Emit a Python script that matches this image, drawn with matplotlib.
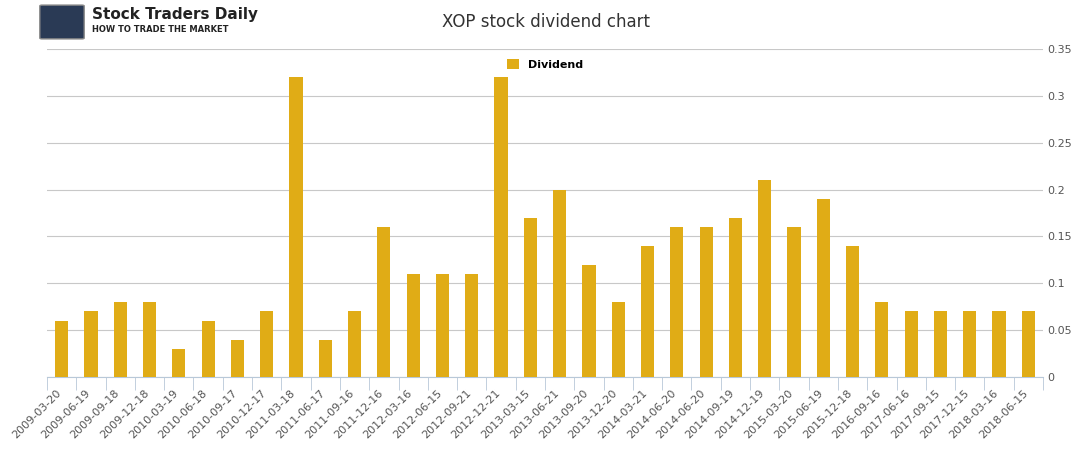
import matplotlib
matplotlib.use("Agg")
import matplotlib.pyplot as plt
import numpy as np

dates = ["2009-03-20","2009-06-19","2009-09-18","2009-12-18","2010-03-19","2010-06-18","2010-09-17","2010-12-17",
         "2011-03-18","2011-06-17","2011-09-16","2011-12-16","2012-03-16","2012-06-15","2012-09-21","2012-12-21",
         "2013-03-15","2013-06-21","2013-09-20","2013-12-20","2014-03-21","2014-06-20","2014-06-20","2014-09-19",
         "2014-12-19","2015-03-20","2015-06-19","2015-12-18","2016-09-16","2017-06-16","2017-09-15","2017-12-15",
         "2018-03-16","2018-06-15"]
dividend = [0.06,0.07,0.08,0.08,0.03,0.06,0.04,0.07,0.32,0.04,0.07,0.16,0.11,0.11,0.11,0.32,
            0.17,0.20,0.12,0.08,0.14,0.16,0.16,0.17,0.21,0.16,0.19,0.14,0.08,0.07,0.07,0.07,0.07,0.07]
yticks = [0,0.05,0.1,0.15,0.2,0.25,0.3,0.35]
ylabels = ["0","0.05","0.1","0.15","0.2","0.25","0.3","0.35"]

fig = plt.figure(figsize=(10.91,4.5), dpi=100)
ax = fig.add_axes([47/1091, 1-377/450, (1043-47)/1091, (377-49)/450])
x = np.arange(len(dates))
ax.bar(x, dividend, width=0.45, color="#E0AC16", label="Dividend", zorder=3)
ax.set_xlim(-0.5, len(dates)-0.5)
ax.set_ylim(0, 0.35)
ax.yaxis.tick_right()
ax.set_yticks(yticks)
ax.set_yticklabels(ylabels, fontsize=8, color="#555555")
ax.tick_params(axis="y", length=0, pad=3)
ax.grid(axis="y", color="#C8C8C8", linewidth=0.8, zorder=0)
ax.set_xticks(x - 0.2)
ax.set_xticklabels(dates, rotation=45, ha="right", rotation_mode="anchor", fontsize=8, color="#555555")
ax.tick_params(axis="x", which="major", length=0, pad=8)
ax.set_xticks(np.arange(len(dates)+1) - 0.5, minor=True)
ax.tick_params(axis="x", which="minor", length=9, color="#B8C8D8")
for s in ["top","right","left"]:
    ax.spines[s].set_visible(False)
ax.spines["bottom"].set_color("#B8C8D8")
fig.text(0.5, 1-22/450, "XOP stock dividend chart", ha="center", va="center", fontsize=12, color="#333333")
ax.legend(loc="upper center", bbox_to_anchor=(0.5, 1.0), frameon=False,
          handlelength=1.1, handleheight=1.0, prop={"weight":"bold","size":8})
fig.patches.append(matplotlib.patches.FancyBboxPatch((42/1091, 1-38/450), 40/1091, 32/450, boxstyle="round,pad=0.002",
                   transform=fig.transFigure, facecolor="#2A3A55", edgecolor="#888888"))
fig.text(92/1091, 1-15/450, "Stock Traders Daily", fontsize=11, weight="bold", color="#222222", va="center")
fig.text(92/1091, 1-30/450, "HOW TO TRADE THE MARKET", fontsize=6, weight="bold", color="#222222", va="center")
fig.savefig("out.png", dpi=100)
